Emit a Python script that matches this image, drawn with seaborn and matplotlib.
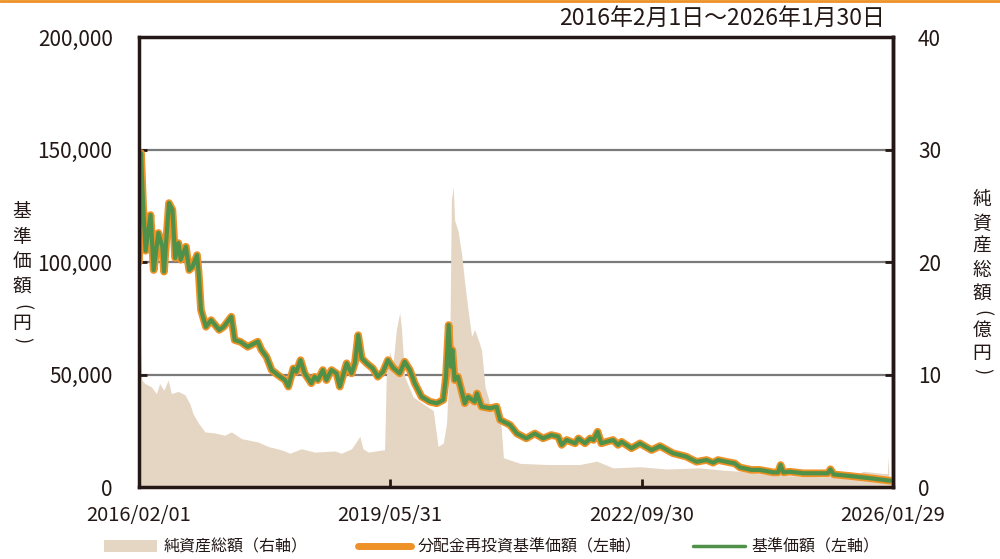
import matplotlib
matplotlib.use("Agg")
import matplotlib.pyplot as plt
import matplotlib.dates as mdates
import matplotlib.ticker as mticker
from matplotlib.lines import Line2D
from matplotlib.patches import Patch
import pandas as pd
import seaborn as sns

# 基準価額（円）
price_dates = [
    "2016-02-01", "2016-02-11", "2016-02-21", "2016-03-04", "2016-03-28", "2016-04-12",
    "2016-05-05", "2016-05-24", "2016-06-01", "2016-06-25", "2016-07-12", "2016-07-25",
    "2016-08-10", "2016-08-21", "2016-09-15", "2016-10-01", "2016-10-17", "2016-11-08",
    "2016-11-16", "2016-11-27", "2016-12-21", "2017-01-15", "2017-02-23", "2017-03-17",
    "2017-04-23", "2017-05-09", "2017-06-07", "2017-07-11", "2017-08-29", "2017-09-16",
    "2017-10-10", "2017-11-04", "2017-12-04", "2018-01-08", "2018-01-24", "2018-02-17",
    "2018-03-03", "2018-03-24", "2018-04-13", "2018-05-15", "2018-05-31", "2018-06-16",
    "2018-07-10", "2018-07-27", "2018-08-21", "2018-09-14", "2018-09-30", "2018-11-02",
    "2018-11-26", "2018-12-12", "2018-12-28", "2019-01-14", "2019-02-07", "2019-03-09",
    "2019-04-02", "2019-04-27", "2019-05-21", "2019-06-15", "2019-07-17", "2019-08-10",
    "2019-09-04", "2019-09-28", "2019-10-31", "2019-12-10", "2020-01-12", "2020-02-13",
    "2020-02-26", "2020-03-10", "2020-03-20", "2020-03-28", "2020-04-08", "2020-04-24",
    "2020-05-27", "2020-06-12", "2020-07-14", "2020-07-25", "2020-08-16", "2020-09-26",
    "2020-10-28", "2020-11-14", "2021-01-01", "2021-02-03", "2021-03-21", "2021-05-01",
    "2021-06-10", "2021-07-20", "2021-08-22", "2021-09-08", "2021-10-02", "2021-11-12",
    "2021-11-28", "2021-12-30", "2022-01-24", "2022-02-09", "2022-03-01", "2022-03-19",
    "2022-04-13", "2022-05-15", "2022-06-08", "2022-06-25", "2022-08-12", "2022-09-22",
    "2022-11-17", "2022-12-28", "2023-03-01", "2023-05-05", "2023-05-21", "2023-06-23",
    "2023-08-10", "2023-09-11", "2023-10-05", "2023-11-15", "2023-12-25", "2024-01-19",
    "2024-03-15", "2024-04-24", "2024-06-28", "2024-07-22", "2024-08-03", "2024-08-16",
    "2024-09-17", "2024-11-21", "2025-02-26", "2025-03-20", "2025-04-01", "2025-04-17",
    "2025-07-04", "2025-10-10", "2026-01-15", "2026-01-29",
]
price_values = [
    100000, 148400, 124600, 105000, 120900, 96400,
    112900, 106800, 95700, 126200, 123100, 101800,
    108400, 101000, 106800, 96400, 97900, 103100,
    95100, 78700, 71200, 74200, 69800, 71200,
    75700, 65300, 64500, 62300, 64600, 60900,
    57900, 52000, 49800, 47500, 44600, 52700,
    51200, 56400, 50500, 46100, 49000, 47500,
    52000, 47500, 52000, 50500, 44600, 55000,
    50500, 55000, 67500, 57200, 55000, 52700,
    49000, 51200, 56400, 53000, 50500, 55700,
    52000, 46100, 40100, 37900, 37200, 38700,
    49000, 72000, 53500, 60900, 47500, 49000,
    37200, 40100, 37900, 41600, 35700, 35000,
    35700, 29800, 27600, 23800, 21600, 23800,
    21600, 23100, 22400, 18700, 20900, 19400,
    21600, 19400, 21600, 20900, 24600, 19400,
    20100, 20900, 18700, 20100, 17200, 19400,
    16400, 18200, 15000, 13500, 12700, 11200,
    12000, 10800, 12000, 11200, 10500, 8700,
    7600, 7600, 6500, 6500, 9800, 6500,
    6800, 6100, 6100, 6100, 7900, 5600,
    4900, 3900, 2800, 2700,
]
# 分配金再投資基準価額（円）: no distributions paid, so it equals the base price
reinvested_values = list(price_values)

# 純資産総額（億円）
nav_dates = [
    "2016-02-01", "2016-02-05", "2016-02-15", "2016-03-01", "2016-04-01", "2016-04-25",
    "2016-05-11", "2016-05-31", "2016-06-21", "2016-07-07", "2016-08-08", "2016-09-10",
    "2016-10-04", "2016-10-20", "2016-11-14", "2016-12-16", "2017-02-03", "2017-03-22",
    "2017-04-23", "2017-06-11", "2017-08-31", "2017-10-18", "2017-12-22", "2018-02-01",
    "2018-03-28", "2018-05-31", "2018-09-06", "2018-10-08", "2018-11-26", "2019-01-05",
    "2019-01-20", "2019-02-15", "2019-04-27", "2019-05-05", "2019-05-13", "2019-05-29",
    "2019-06-15", "2019-07-01", "2019-07-17", "2019-07-25", "2019-08-10", "2019-09-20",
    "2019-11-07", "2019-12-26", "2020-01-19", "2020-02-13", "2020-02-29", "2020-03-15",
    "2020-03-23", "2020-04-01", "2020-04-08", "2020-04-24", "2020-05-11", "2020-05-27",
    "2020-06-12", "2020-06-29", "2020-07-14", "2020-07-31", "2020-08-16", "2020-09-02",
    "2020-09-26", "2020-11-06", "2020-11-19", "2020-11-30", "2021-02-19", "2021-06-27",
    "2021-12-06", "2022-02-25", "2022-05-15", "2022-09-22", "2023-01-30", "2023-07-08",
    "2023-10-28", "2024-01-19", "2024-04-08", "2024-09-17", "2025-02-26", "2025-08-06",
    "2025-09-07", "2025-12-12", "2026-01-02", "2026-01-05", "2026-01-10", "2026-01-29",
]
nav_values = [
    10.0, 14.5, 9.5, 9.2, 8.9, 8.3,
    9.2, 8.6, 9.5, 8.3, 8.5, 8.2,
    7.4, 6.5, 5.7, 4.9, 4.8, 4.6,
    4.9, 4.3, 4.0, 3.6, 3.3, 3.0,
    3.4, 3.1, 3.2, 3.0, 3.4, 4.5,
    3.4, 3.1, 3.3, 3.3, 9.8, 12.0,
    11.0, 14.0, 15.5, 14.2, 9.8, 8.0,
    7.4, 6.8, 3.6, 3.9, 5.7, 11.6,
    25.5, 26.7, 23.7, 22.8, 20.8, 18.1,
    15.7, 13.4, 14.0, 13.1, 12.2, 8.9,
    7.4, 6.2, 5.4, 2.6, 2.1, 2.0,
    2.0, 2.3, 1.7, 1.8, 1.6, 1.7,
    1.5, 1.4, 1.2, 1.0, 0.9, 1.07,
    1.4, 1.2, 1.2, 2.7, 0.8, 0.8,
]

x_tick_dates = ["2016-02-01", "2019-05-31", "2022-09-30", "2026-01-29"]
left_ticks = [0, 50000, 100000, 150000, 200000]
right_ticks = [0, 10, 20, 30, 40]

ORANGE = "#EE9126"
GREEN = "#4F9149"
BEIGE = "#E5D5C3"
INK = "#231815"

sns.set_theme(style="white")
plt.rcParams["font.family"] = ["Noto Sans CJK JP", "DejaVu Sans"]

price_df = pd.DataFrame({
    "date": pd.to_datetime(price_dates),
    "base": price_values,
    "reinvested": reinvested_values,
})
nav_df = pd.DataFrame({"date": pd.to_datetime(nav_dates), "nav": nav_values})

fig = plt.figure(figsize=(10, 5.59), dpi=100)
ax = fig.add_axes([0.139, 0.1288, 0.754, 0.805])
ax2 = ax.twinx()
ax.set_zorder(ax2.get_zorder() + 1)
ax.patch.set_visible(False)

# Net assets area on the right axis, drawn over the grid lines
ax2.set_axisbelow(True)
ax2.yaxis.grid(True, color="#7a7a7a", linewidth=1.6)
ax2.xaxis.grid(False)
ax2.fill_between(nav_df["date"], nav_df["nav"], 0, color=BEIGE, linewidth=0, zorder=2)
ax2.set_ylim(0, 40)
ax2.set_yticks(right_ticks)
ax2.set_yticklabels([str(t) for t in right_ticks])

# Price lines on the left axis
sns.lineplot(data=price_df, x="date", y="reinvested", ax=ax, color=ORANGE,
             linewidth=5.5, legend=False, solid_joinstyle="round", solid_capstyle="round")
sns.lineplot(data=price_df, x="date", y="base", ax=ax, color=GREEN,
             linewidth=3.0, legend=False, solid_joinstyle="round", solid_capstyle="round")

xmin, xmax = pd.Timestamp(x_tick_dates[0]), pd.Timestamp(x_tick_dates[-1])
ax.set_xlim(xmin, xmax)
ax.set_ylim(0, 200000)
ax.set_yticks(left_ticks)
ax.yaxis.set_major_formatter(mticker.FuncFormatter(lambda v, p: f"{int(v):,}"))
ax.set_xticks(pd.to_datetime(x_tick_dates))
ax.xaxis.set_major_formatter(mdates.DateFormatter("%Y/%m/%d"))
ax.set_xlabel("")
ax.set_ylabel("")
ax.grid(False)

for a in (ax, ax2):
    for s in a.spines.values():
        s.set_color(INK)
        s.set_linewidth(2.5)
ax2.spines["left"].set_visible(False)
ax2.spines["bottom"].set_visible(False)
ax2.spines["top"].set_visible(False)

ax.tick_params(axis="y", direction="in", length=6, width=2, color=INK,
               labelsize=15, labelcolor=INK, pad=19, left=True, right=False)
ax.tick_params(axis="x", direction="in", length=6, width=2, color=INK,
               labelsize=14.5, labelcolor=INK, pad=13, bottom=True)
ax2.tick_params(axis="y", direction="in", length=6, width=2, color=INK,
                labelsize=15, labelcolor=INK, pad=18, right=True, left=False)


def vertical_title(x_px, chars, ys):
    """Stack characters top to bottom; brackets are turned to lie across the column."""
    for ch, y in zip(chars, ys):
        if ch in "()":
            fig.text(x_px / 1000, 1 - y / 559, ch, ha="center", va="center",
                     rotation=-90, fontsize=13, color=INK)
        else:
            fig.text(x_px / 1000, 1 - y / 559, ch, ha="center", va="center",
                     fontsize=13.5, color=INK)


vertical_title(22, ["基", "準", "価", "額", "(", "円", ")"],
               [212, 237, 262, 287, 307, 324, 340])
vertical_title(982, ["純", "資", "産", "総", "額", "(", "億", "円", ")"],
               [200, 223, 246, 270, 294, 313, 330, 354, 371])

# Period caption and top rule
fig.text(0.885, 1 - 18 / 559, "2016年2月1日～2026年1月30日", ha="right", va="center",
         fontsize=16.5, color=INK)
fig.add_artist(Line2D([0, 1], [1 - 1 / 559, 1 - 1 / 559], transform=fig.transFigure,
                      color=ORANGE, linewidth=2))

handles = [
    Patch(facecolor=BEIGE, edgecolor="none", label="純資産総額（右軸）"),
    Line2D([], [], color=ORANGE, linewidth=5, solid_capstyle="round",
           label="分配金再投資基準価額（左軸）"),
    Line2D([], [], color=GREEN, linewidth=2.5, label="基準価額（左軸）"),
]
fig.legend(handles=handles, loc="center", bbox_to_anchor=(0.492, 1 - 547 / 559),
           ncol=3, frameon=False, fontsize=11.5, handlelength=3.3,
           handletextpad=0.4, columnspacing=3.2, labelcolor=INK)

fig.savefig("out.png", dpi=100)
